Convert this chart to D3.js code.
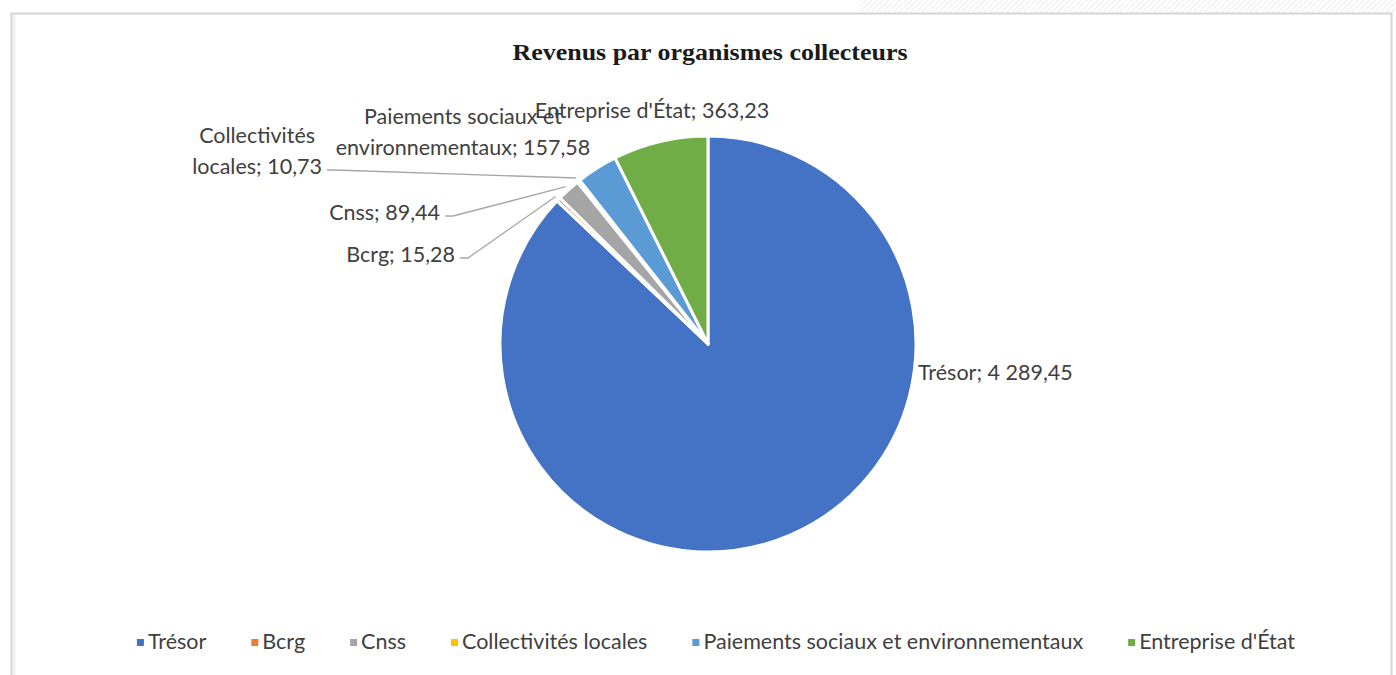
<!DOCTYPE html>
<html>
<head>
<meta charset="utf-8">
<script src="https://cdn.jsdelivr.net/npm/d3@7"></script>
<style>
    body { margin: 0; background: #fff; }
    svg text { font-family: Lato, "Noto Sans", sans-serif; }
</style>
</head>
<body>
<svg id="chart" width="1396" height="675"></svg>
<script>
// data
let categories = ["Trésor", "Bcrg", "Cnss", "Collectivités locales",
                  "Paiements sociaux et environnementaux", "Entreprise d'État"];
let values = [4289.45, 15.28, 89.44, 10.73, 157.58, 363.23];
let colors = ["#4472C4", "#ED7D31", "#A5A5A5", "#FFC000", "#5B9BD5", "#70AD47"];
// data label lines, as Excel wrapped them
let labelLines = [
    ["Trésor; 4 289,45"],
    ["Bcrg; 15,28"],
    ["Cnss; 89,44"],
    ["Collectivités", "locales; 10,73"],
    ["Paiements sociaux et", "environnementaux; 157,58"],
    ["Entreprise d'État; 363,23"]
];

let width = 1396;
let height = 675;
let cx = 708, cy = 344, radius = 208;

// label placement relative to the pie centre: dx, dy of the anchor, text-anchor, leader line
let labelLayout = [
    {dx: 210, dy: 36, anchor: "start", leader: false},
    {dx: -253, dy: -82, anchor: "end", leader: true},
    {dx: -268, dy: -124, anchor: "end", leader: true},
    {dx: -386, dy: -170, anchor: "end", leader: true, align: "middle"},
    {dx: -245, dy: -189, anchor: "middle", leader: false},
    {dx: -56, dy: -226, anchor: "middle", leader: false}
];

let svg = d3.select("#chart");

// chart frame
let defs = svg.append("defs");
let hatch = defs.append("pattern")
    .attr("id", "hatch")
    .attr("width", 4).attr("height", 4)
    .attr("patternUnits", "userSpaceOnUse")
    .attr("patternTransform", "rotate(45)");
hatch.append("line")
    .attr("x1", 0).attr("y1", 0).attr("x2", 0).attr("y2", 4)
    .attr("stroke", "#e6e6e6").attr("stroke-width", 1.5);
svg.append("rect")
    .attr("x", 860).attr("y", 0).attr("width", 536).attr("height", 12)
    .attr("fill", "url(#hatch)");
svg.append("rect")
    .attr("x", 11.5).attr("y", 13.5).attr("width", 1380).attr("height", 700)
    .attr("fill", "#fff")
    .attr("stroke", "#d4d4d4").attr("stroke-width", 2);
svg.append("line")
    .attr("x1", 14).attr("x2", 14).attr("y1", 15).attr("y2", 675)
    .attr("stroke", "#f0f0f0").attr("stroke-width", 3);

// title
svg.append("text")
    .attr("x", 710).attr("y", 60)
    .attr("text-anchor", "middle")
    .attr("textLength", 395)
    .attr("lengthAdjust", "spacingAndGlyphs")
    .style("font-family", "'Liberation Serif', 'Times New Roman', serif")
    .style("font-weight", "bold")
    .style("font-size", "24px")
    .attr("fill", "#1a1a1a")
    .text("Revenus par organismes collecteurs");

let data = categories.map((c, i) => ({name: c, value: values[i], color: colors[i],
                                      lines: labelLines[i], layout: labelLayout[i]}));

let pie = d3.pie()
    .sort(null)
    .value(d => d.value);
let arcs = pie(data);

let arc = d3.arc()
    .innerRadius(0)
    .outerRadius(radius);
let edge = d3.arc()
    .innerRadius(radius + 4)
    .outerRadius(radius + 4);

let g = svg.append("g")
    .attr("transform", "translate(" + cx + "," + cy + ")");

g.selectAll("path.slice")
    .data(arcs)
    .enter().append("path")
    .attr("class", "slice")
    .attr("d", arc)
    .attr("fill", d => d.data.color)
    .attr("stroke", "#fff")
    .attr("stroke-width", 3)
    .attr("stroke-linejoin", "round");

// data labels
let fontSize = "21.5px";
let lineH = 31;
let labels = g.selectAll("g.label")
    .data(arcs)
    .enter().append("g")
    .attr("class", "label");

labels.each(function (d) {
    let lay = d.data.layout;
    let lab = d3.select(this);
    let n = d.data.lines.length;
    let t = lab.append("text")
        .attr("text-anchor", lay.align || lay.anchor)
        .style("font-size", fontSize)
        .attr("fill", "#404040");
    d.data.lines.forEach((line, k) => {
        t.append("tspan")
            .attr("x", 0)
            .attr("y", (k - (n - 1)) * lineH)
            .text(line);
    });
    let tx = lay.dx, ty = lay.dy;
    if (lay.align == "middle") {
        // first line centred over the second, right edge of second at anchor
        let w = t.selectAll("tspan").nodes()[n - 1].getComputedTextLength();
        tx = lay.dx - w / 2;
    }
    t.attr("transform", "translate(" + tx + "," + ty + ")");

    if (lay.leader) {
        let p = edge.centroid(d);
        let x0 = lay.dx + 5, y0 = lay.dy - 4;
        let pts = [[x0, y0], [x0 + 8, y0], p];
        lab.append("path")
            .attr("d", d3.line()(pts))
            .attr("fill", "none")
            .attr("stroke", "#a6a6a6")
            .attr("stroke-width", 1.3);
    }
});

// legend
let legend = svg.append("g");
let items = legend.selectAll("g.item")
    .data(data)
    .enter().append("g")
    .attr("class", "item");
items.append("rect")
    .attr("width", 7).attr("height", 7)
    .attr("y", -10)
    .attr("fill", d => d.color);
items.append("text")
    .attr("x", 11)
    .style("font-size", fontSize)
    .attr("fill", "#404040")
    .text(d => d.name);

let gap = 45;
let offsets = [];
let total = 0;
items.each(function () {
    let w = 11 + d3.select(this).select("text").node().getComputedTextLength();
    offsets.push(total);
    total += w + gap;
});
total -= gap;
let lx0 = 716 - total / 2;
items.attr("transform", (d, i) => "translate(" + (lx0 + offsets[i]) + "," + 649 + ")");
</script>
</body>
</html>
